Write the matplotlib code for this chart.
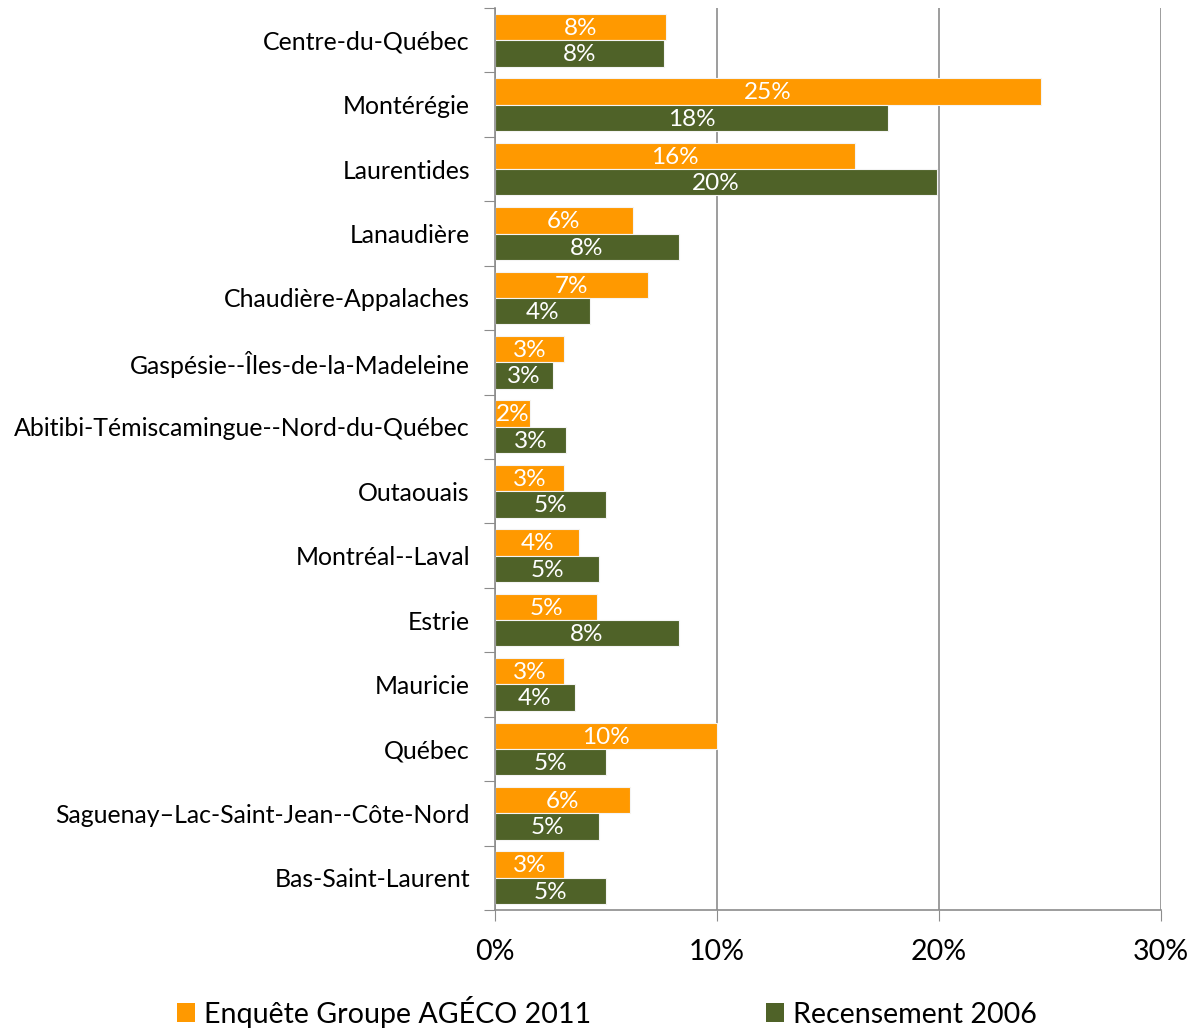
import numpy as np
import matplotlib.pyplot as plt
from matplotlib.patches import Patch

plt.rcParams['font.family'] = ['Lato', 'DejaVu Sans']

# Régions (de haut en bas)
regions = ['Centre-du-Québec', 'Montérégie', 'Laurentides', 'Lanaudière',
           'Chaudière-Appalaches', 'Gaspésie--Îles-de-la-Madeleine',
           'Abitibi-Témiscamingue--Nord-du-Québec', 'Outaouais', 'Montréal--Laval',
           'Estrie', 'Mauricie', 'Québec', 'Saguenay–Lac-Saint-Jean--Côte-Nord',
           'Bas-Saint-Laurent']

# Part des répondants (%)
ageco_2011 = [7.7, 24.6, 16.2, 6.2, 6.9, 3.1, 1.6, 3.1, 3.8, 4.6, 3.1, 10.0, 6.1, 3.1]
recensement_2006 = [7.6, 17.7, 19.9, 8.3, 4.3, 2.6, 3.2, 5.0, 4.7, 8.3, 3.6, 5.0, 4.7, 5.0]

series_names = ['Enquête Groupe AGÉCO 2011', 'Recensement 2006']
colors = ['#FF9900', '#4F6228']
x_ticks = [0, 10, 20, 30]

fig = plt.figure(figsize=(11.99, 10.28), dpi=100)
ax = fig.add_axes([0.4128, 0.1148, 0.5555, 0.8774])

y = np.arange(len(regions))
h = 0.41
for vals, off, col in [(ageco_2011, -h / 2, colors[0]), (recensement_2006, h / 2, colors[1])]:
    bars = ax.barh(y + off, vals, height=h, color=col, edgecolor='#f4f4f4', linewidth=0.8, zorder=2)
    for b, v in zip(bars, vals):
        t = ax.text(b.get_width() / 2, b.get_y() + b.get_height() / 2 + 0.02, f'{round(v):d}%',
                    ha='center', va='center', color='white', fontsize=17.5, zorder=3)
        # le texte qui dépasse de la barre reste invisible
        t.set_clip_path(b)

ax.set_xlim(0, 30)
ax.set_ylim(len(regions) - 0.5, -0.5)
ax.set_xticks(x_ticks)
ax.set_xticklabels([f'{t}%' for t in x_ticks], fontsize=20.5)
ax.tick_params(axis='x', length=8, pad=13, color='#8c8c8c', direction='out')
ax.grid(axis='x', color='#8c8c8c', linewidth=1.2, zorder=0)

ax.set_yticks(np.arange(len(regions) + 1) - 0.5)
ax.set_yticklabels([])
ax.set_yticks(y, minor=True)
ax.set_yticklabels(regions, minor=True, fontsize=17.9)
ax.tick_params(axis='y', which='major', length=8, color='#8c8c8c')
ax.tick_params(axis='y', which='minor', length=0, pad=18)

for s in ['top', 'right']:
    ax.spines[s].set_visible(False)
for s in ['left', 'bottom']:
    ax.spines[s].set_color('#8c8c8c')
    ax.spines[s].set_linewidth(1.2)

handles = [Patch(facecolor=c, edgecolor='none') for c in colors]
fig.legend(handles, series_names, loc='lower center', bbox_to_anchor=(0.506, -0.025),
           ncol=2, frameon=False, fontsize=20.6, handlelength=0.65, handleheight=0.65,
           handletextpad=0.3, columnspacing=6.1)

fig.savefig('out.png', dpi=100)
